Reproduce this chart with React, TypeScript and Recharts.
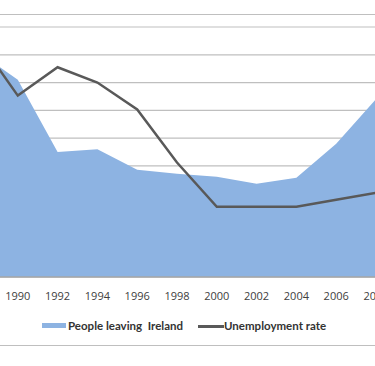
import React from 'react';
import { ComposedChart, Area, Line, XAxis, YAxis, CartesianGrid } from 'recharts';

const years = ['1988', '1990', '1992', '1994', '1996', '1998', '2000', '2002', '2004', '2006', '2008'];
const peopleLeaving = [81, 71, 45, 46, 38.6, 37.2, 36.1, 33.6, 35.7, 48, 64];
const unemployment = [85.6, 65.3, 75.5, 70, 60.3, 41.2, 25.3, 25.3, 25.3, 27.8, 30.3];
const gridTicks = [0, 10, 20, 30, 40, 50, 60, 70, 80, 90];

const data = years.map((year, i) => ({
  year,
  leaving: peopleLeaving[i],
  unemployment: unemployment[i],
}));

const font = '"Open Sans", "Liberation Sans", sans-serif';
const legendFont = 'Lato, "Open Sans", sans-serif';

const legendText: React.CSSProperties = {
  position: 'absolute',
  top: 318,
  fontFamily: legendFont,
  fontSize: 11.5,
  fontWeight: 700,
  color: '#333',
  whiteSpace: 'pre',
  lineHeight: '16px',
};

export default function App() {
  return (
    <div style={{ position: 'absolute', left: 0, top: 0, width: 375, height: 366, overflow: 'hidden', background: '#fff' }}>
      <div style={{ position: 'absolute', left: -10, top: 14, width: 395, height: 330, border: '1px solid #bfbfbf' }} />
      <div style={{ position: 'absolute', left: -60, top: 0 }}>
        <ComposedChart
          width={480}
          height={366}
          data={data}
          margin={{ top: 27, right: 44, bottom: 59, left: 38 }}
        >
          <CartesianGrid horizontal vertical={false} stroke="#bfbfbf" strokeWidth={1.2} />
          <XAxis
            dataKey="year"
            height={30}
            axisLine={{ stroke: '#a6a6a6', strokeWidth: 1.5 }}
            tickLine={false}
            tickMargin={9}
            interval={0}
            tick={{ fill: '#404040', fontSize: 11, fontFamily: font }}
          />
          <YAxis hide domain={[0, 90]} ticks={gridTicks} />
          <Area
            type="linear"
            dataKey="leaving"
            stroke="none"
            fill="#8db3e2"
            fillOpacity={1}
            isAnimationActive={false}
          />
          <Line
            type="linear"
            dataKey="unemployment"
            stroke="#595959"
            strokeWidth={2.5}
            dot={false}
            isAnimationActive={false}
          />
        </ComposedChart>
      </div>
      <div style={{ position: 'absolute', left: 42, top: 323, width: 24, height: 5, background: '#8db3e2' }} />
      <div style={{ ...legendText, left: 68 }}>People leaving  Ireland</div>
      <div style={{ position: 'absolute', left: 198, top: 325, width: 26, height: 2.5, background: '#595959' }} />
      <div style={{ ...legendText, left: 224 }}>Unemployment rate</div>
    </div>
  );
}
